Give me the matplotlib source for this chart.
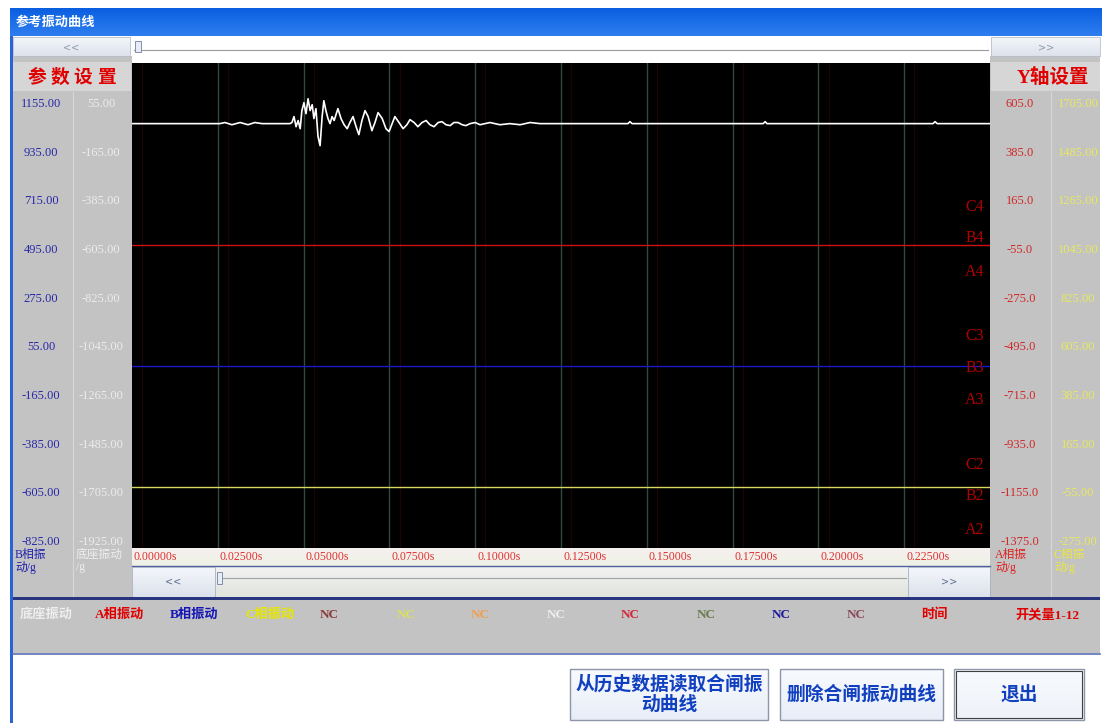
import numpy as np
import matplotlib
matplotlib.use('Agg')
import matplotlib.pyplot as plt
from matplotlib.patches import Rectangle
from matplotlib.colors import to_rgb

# ---------------- data ----------------
x_ticks = [0.0, 0.025, 0.05, 0.075, 0.1, 0.125, 0.15, 0.175, 0.2, 0.225]
x_tick_labels = ['0.00000s', '0.02500s', '0.05000s', '0.07500s', '0.10000s',
                 '0.12500s', '0.15000s', '0.17500s', '0.20000s', '0.22500s']
b_phase_labels = ['1155.00', '935.00', '715.00', '495.00', '275.00', '55.00',
                  '-165.00', '-385.00', '-605.00', '-825.00']
base_labels = ['55.00', '-165.00', '-385.00', '-605.00', '-825.00', '-1045.00',
               '-1265.00', '-1485.00', '-1705.00', '-1925.00']
a_phase_labels = ['605.0', '385.0', '165.0', '-55.0', '-275.0', '-495.0',
                  '-715.0', '-935.0', '-1155.0', '-1375.0']
c_phase_labels = ['1705.00', '1485.00', '1265.00', '1045.00', '825.00', '605.00',
                  '385.00', '165.00', '-55.00', '-275.00']

# base vibration signal (time s, deviation g)
sig_t = [0.0, 0.0256, 0.0271, 0.0291, 0.0315, 0.0338, 0.0358, 0.0379, 0.0460, 0.0466,
         0.0472, 0.0478, 0.0484, 0.0490, 0.0495, 0.0501, 0.0507, 0.0513, 0.0519, 0.0525,
         0.0530, 0.0536, 0.0542, 0.0548, 0.0554, 0.0559, 0.0565, 0.0571, 0.0577, 0.0583,
         0.0589, 0.0600, 0.0609, 0.0618, 0.0627, 0.0635, 0.0644, 0.0653, 0.0661, 0.0670,
         0.0679, 0.0688, 0.0699, 0.0708, 0.0717, 0.0729, 0.0740, 0.0749, 0.0758, 0.0766,
         0.0778, 0.0790, 0.0801, 0.0810, 0.0822, 0.0833, 0.0845, 0.0857, 0.0868, 0.0880,
         0.0892, 0.0903, 0.0915, 0.0927, 0.0938, 0.0950, 0.0962, 0.0973, 0.0985, 0.1000,
         0.1014, 0.1043, 0.1072, 0.1101, 0.1131, 0.1160, 0.1189, 0.1218, 0.1445, 0.1451,
         0.1457, 0.1839, 0.1845, 0.1850, 0.2334, 0.2340, 0.2346, 0.2500]
sig_g = [0, 0, 5, -5, 5, -5, 5, 0, 0, 5,
         32, -14, 14, -23, 59, 95, 45, 113, 59, 86,
         23, 68, -59, -100, 32, 104, 59, 23, 0, 32,
         14, 68, 23, -5, -23, 5, 32, -14, -50, 14,
         59, 32, -32, 5, 50, 23, -23, -36, 0, 32,
         5, -23, -5, 18, 5, -14, 5, 14, -5, -14,
         5, 9, -5, -9, 5, 5, -5, -9, 0, 5,
         -5, 5, -5, 0, -5, 5, 0, 0, 0, 9,
         0, 0, 9, 0, 0, 9, 0, 0]

channel_levels = {'A': 5.0, 'B': 3.0, 'C': 1.0}   # horizontal reference traces
channel_labels = ['C4', 'B4', 'A4', 'C3', 'B3', 'A3', 'C2', 'B2', 'A2']

legend_items = [('底座振动', '#EEEEEE'), ('A相振动', '#E00000'), ('B相振动', '#1515B5'),
                ('C相振动', '#E6E600'), ('NC', '#8B3A3A'), ('NC', '#D8E060'),
                ('NC', '#F0A050'), ('NC', '#EEEEEE'), ('NC', '#D02838'),
                ('NC', '#6B7B4B'), ('NC', '#1A1A9A'), ('NC', '#8B4A5A'),
                ('时间', '#E00000'), ('开关量1-12', '#E00000')]

# ---------------- layout ----------------
W, H = 1102, 723
SERIF = ['Liberation Serif', 'Noto Sans CJK SC']
CJK = ['Noto Sans CJK SC', 'DejaVu Sans']
plt.rcParams['font.family'] = CJK

fig = plt.figure(figsize=(W / 100, H / 100), dpi=100)
bg = fig.add_axes([0, 0, 1, 1])
bg.set_xlim(0, W)
bg.set_ylim(H, 0)
bg.axis('off')


def rect(x0, y0, x1, y1, fc, ec='none', lw=0.8, z=1):
    bg.add_patch(Rectangle((x0, y0), x1 - x0, y1 - y0, facecolor=fc,
                           edgecolor=ec, linewidth=lw, zorder=z))


def grad(x0, y0, x1, y1, c0, c1, z=1):
    c0 = np.array(to_rgb(c0))
    c1 = np.array(to_rgb(c1))
    f = np.linspace(0, 1, 64)[:, None]
    img = (c0 * (1 - f) + c1 * f)[:, None, :]
    bg.imshow(img, extent=(x0, x1, y1, y0), aspect='auto', zorder=z,
              interpolation='bilinear')


def txt(x, y, s, **kw):
    kw.setdefault('va', 'center')
    kw.setdefault('zorder', 10)
    bg.text(x, y, s, **kw)


# window frame
rect(0, 0, W, H, 'white', z=0)
grad(10, 8, W, 36, '#0A5FE0', '#2F7EF0', z=1)
txt(16, 22, '参考振动曲线', color='white', fontsize=9.5, fontweight='bold', family=CJK)
rect(10, 36, 13, H, '#2A62D8', z=2)

# top scroll row
grad(13, 37, 130, 56, '#F4F6FA', '#DCE2EC', z=2)
rect(13, 37, 130, 56, 'none', ec='#B8C0CC', lw=0.6, z=3)
txt(71, 47, '<<', color='#9098A8', fontsize=7, ha='center', family='DejaVu Sans')
rect(130, 37, 991, 56, '#FFFFFF', z=2)
bg.plot([134, 988], [50, 50], color='#9A9A9A', lw=0.8, zorder=3)
rect(135, 41, 141, 52, '#E8ECF4', ec='#7080A0', lw=0.6, z=4)
grad(991, 37, 1100, 56, '#F4F6FA', '#DCE2EC', z=2)
rect(991, 37, 1100, 56, 'none', ec='#B8C0CC', lw=0.6, z=3)
txt(1046, 47, '>>', color='#9098A8', fontsize=7, ha='center', family='DejaVu Sans')

# side panels
rect(13, 56, 132, 598, '#C3C3C3', z=1)
rect(990, 56, 1100, 598, '#C3C3C3', z=1)
rect(13, 62, 131, 91, '#D6D6D6', z=2)
rect(991, 62, 1100, 91, '#D6D6D6', z=2)
bg.plot([73, 73], [92, 598], color='#D8D8D8', lw=0.8, zorder=2)
bg.plot([1051, 1051], [92, 598], color='#D8D8D8', lw=0.8, zorder=2)
for i, ch in enumerate('参数设置'):
    txt(37 + i * 23, 77, ch, color='#E00000', fontsize=13.5, fontweight='bold',
        ha='center', family=CJK)
txt(1053, 77, 'Y轴设置', color='#E00000', fontsize=14, fontweight='bold', ha='center',
    family=SERIF)

label_y0, label_dy = 104, 48.65
for k in range(10):
    y = label_y0 + k * label_dy
    txt(41, y, b_phase_labels[k], color='#2828A8', fontsize=9, ha='center', family=SERIF)
    txt(101, y, base_labels[k], color='#ECECEC', fontsize=9, ha='center', family=SERIF)
    txt(1020, y, a_phase_labels[k], color='#D02828', fontsize=9, ha='center', family=SERIF)
    txt(1078, y, c_phase_labels[k], color='#E8E860', fontsize=9, ha='center', family=SERIF)

txt(15, 561, 'B相振\n动/g', color='#2020B0', fontsize=8.5, ha='left', family=SERIF,
    linespacing=1.0)
txt(76, 561, '底座振动\n/g', color='#EEEEEE', fontsize=8.5, ha='left', family=SERIF,
    linespacing=1.0)
txt(995, 561, 'A相振\n动/g', color='#E02020', fontsize=8.5, ha='left', family=SERIF,
    linespacing=1.0)
txt(1054, 561, 'C相振\n动/g', color='#E8E840', fontsize=8.5, ha='left', family=SERIF,
    linespacing=1.0)

# x label strip and bottom scroll row
PX0, PX1, PY0, PY1 = 132, 990, 63, 548
grad(PX0, PY1, PX1, 566, '#F6F0F0', '#EEF2E6', z=2)
bg.plot([PX0, PX1], [566, 566], color='#5060A0', lw=1.0, zorder=3)
for t, lab in zip(x_ticks, x_tick_labels):
    xp = PX0 + t / 0.25 * (PX1 - PX0) + 2
    txt(xp, 557, lab, color='#E03030', fontsize=8.5, ha='left', family=SERIF)
grad(215, 567, 908, 597, '#F2F2F2', '#E0E4DC', z=2)
bg.plot([218, 906], [578, 578], color='#A0A0A0', lw=0.8, zorder=3)
rect(217, 572, 222, 584, '#E8ECF4', ec='#7080A0', lw=0.6, z=4)
grad(132, 567, 215, 597, '#F4F6FA', '#DCE2EC', z=2)
rect(132, 567, 215, 597, 'none', ec='#A8B0C0', lw=0.6, z=3)
txt(173, 582, '<<', color='#607090', fontsize=7, ha='center', family='DejaVu Sans')
grad(908, 567, 990, 597, '#F4F6FA', '#DCE2EC', z=2)
rect(908, 567, 990, 597, 'none', ec='#A8B0C0', lw=0.6, z=3)
txt(949, 582, '>>', color='#607090', fontsize=7, ha='center', family='DejaVu Sans')

# legend row
rect(13, 597, 1100, 600, '#2A3580', z=3)
rect(13, 600, 1100, 653, '#C3C3C3', z=1)
bg.plot([13, 1100], [654, 654], color='#5A70B8', lw=1.2, zorder=3)
leg_x = [20, 95, 170, 245, 320, 397, 471, 547, 621, 697, 772, 847, 921, 1015]
for (s, c), xp in zip(legend_items, leg_x):
    txt(xp, 615, s, color=c, fontsize=9.5, fontweight='bold', ha='left', family=SERIF)

# bottom buttons
buttons = [(570, 669, 768, 720, '从历史数据读取合闸振\n动曲线', '#E8EEF8'),
           (780, 669, 943, 720, '删除合闸振动曲线', '#E8EEF8'),
           (954, 669, 1084, 720, '退出', '#EEF2F8')]
for x0, y0, x1, y1, s, c in buttons:
    grad(x0, y0, x1, y1, '#F8FAFE', c, z=2)
    rect(x0, y0, x1, y1, 'none', ec='#8C96A8', lw=1.0, z=3)
    txt((x0 + x1) / 2, (y0 + y1) / 2, s, color='#1040C0', fontsize=13.5, fontweight='bold',
        ha='center', family=CJK, linespacing=1.05)
rect(956, 671, 1082, 718, 'none', ec='#404040', lw=0.8, z=4)

# ---------------- plot ----------------
ax = fig.add_axes([PX0 / W, 1 - PY1 / H, (PX1 - PX0) / W, (PY1 - PY0) / H])
ax.set_facecolor('black')
ax.set_xlim(0, 0.25)
ax.set_ylim(0, 8)
ax.set_xticks([])
ax.set_yticks([])
for sp in ax.spines.values():
    sp.set_visible(False)

for t in x_ticks[1:]:
    ax.axvline(t, color='#304A3C', lw=1.0, zorder=1)
    ax.axvline(t + 0.003, color='#1A0505', lw=1.0, zorder=1)
ax.axvline(0.003, color='#1A0505', lw=1.0, zorder=1)

ax.axhline(channel_levels['A'], color='#D01010', lw=1.0, zorder=2)
ax.axhline(channel_levels['B'], color='#1818C8', lw=1.0, zorder=2)
ax.axhline(channel_levels['C'], color='#D8D860', lw=1.0, zorder=2)

base_level = 7.0
g_to_units = 0.8 / 220.0
ax.plot(sig_t, [base_level + g * g_to_units for g in sig_g], color='white', lw=1.2, zorder=3)

label_y = [5.63, 5.12, 4.56, 3.50, 2.97, 2.44, 1.37, 0.85, 0.30]
for s, y in zip(channel_labels, label_y):
    ax.text(0.2455, y, s, color='#B00000', fontsize=11.5, ha='center', va='center',
            family=SERIF, zorder=4)

fig.savefig('out.png', dpi=100)
